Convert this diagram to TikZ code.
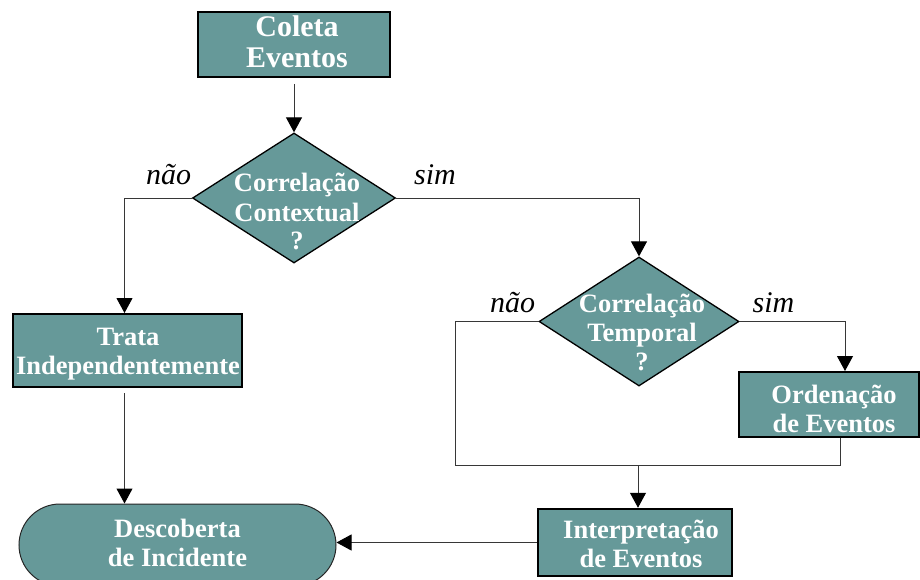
\documentclass[tikz,border=0pt]{standalone}
\usepackage{fontspec}
\setmainfont{Liberation Serif}
\usetikzlibrary{shapes.geometric,shapes.misc,arrows.meta}
\definecolor{tealfill}{RGB}{102,153,153}
\definecolor{wirecol}{RGB}{55,55,55}
\newcommand\stackedtext[1]{\begin{tabular}[t]{@{}c@{}}#1\end{tabular}}
\begin{document}
\begin{tikzpicture}[x=1pt,y=-1pt,
  procbox/.style={rectangle, draw=black, line width=2pt, fill=tealfill, inner sep=0},
  decision/.style={diamond, draw=black, line width=1.3pt, fill=tealfill, inner sep=0},
  terminal/.style={rounded rectangle, draw=black!85, line width=1pt, fill=tealfill, inner sep=0},
  caption/.style={font=\fontsize{26.5}{29}\selectfont\bfseries, text=white, anchor=base, inner sep=0},
  answer/.style={font=\fontsize{30}{32}\selectfont\itshape, anchor=base, inner sep=0},
  wire/.style={draw=wirecol, line width=1pt},
  flow/.style={wire, -{Triangle[width=16pt,length=15pt,black]}}]
\useasboundingbox (0,0) rectangle (920,580);
\clip (0,0) rectangle (920,580);

% shapes
\node[procbox, minimum width=192pt, minimum height=65pt] (coleta) at (294,44.5) {};
\node[decision, minimum width=203pt, minimum height=130pt] (d1) at (294,198) {};
\node[procbox, minimum width=229pt, minimum height=73pt] (trata) at (127.5,350.5) {};
\node[decision, minimum width=200pt, minimum height=129pt] (d2) at (639,321.5) {};
\node[procbox, minimum width=180pt, minimum height=65pt] (orden) at (829,404.5) {};
\node[procbox, minimum width=194pt, minimum height=67pt, line width=2.5pt] (interp) at (635,542.5) {};
\node[terminal, minimum width=317pt, minimum height=82pt] (stad) at (177.5,545) {};

% captions
\node[caption, font=\fontsize{30}{31}\selectfont\bfseries] (coleta-t) at (297,37) {\stackedtext{Coleta\\Eventos}};
\node[caption] (d1-t) at (297,192) {\stackedtext{Correlação\\Contextual\\?}};
\node[caption] (trata-t) at (128,345) {\stackedtext{Trata\\Independentemente}};
\node[caption] (d2-t) at (642,312) {\stackedtext{Correlação\\Temporal\\?}};
\node[caption] (orden-t) at (834,403) {\stackedtext{Ordenação\\de Eventos}};
\node[caption] (interp-t) at (641,538) {\stackedtext{Interpretação\\de Eventos}};
\node[caption] (stad-t) at (177.5,537) {\stackedtext{Descoberta\\de Incidente}};

% branch answers
\node[answer] (d1-no) at (168.5,185) {não};
\node[answer] (d1-yes) at (435,185) {sim};
\node[answer] (d2-no) at (512.5,312) {não};
\node[answer] (d2-yes) at (773.5,312) {sim};

% connectors
\draw[flow, shorten <=6pt] (coleta.south) -- (d1.north);
\draw[flow] (d1.west) -| ([xshift=-3pt]trata.north);
\draw[flow] (d1.east) -| (d2.north);
\draw[flow] (d2.east) -| ([xshift=16pt]orden.north);
\coordinate (loopL) at (455,465);
\coordinate (loopR) at (840,465);
\draw[wire] (d2.west) -| (loopL) -- (loopR) -- (loopR |- orden.south);
\draw[flow] ([xshift=3pt]interp.north |- loopL) -- ([xshift=3pt]interp.north);
\draw[flow, shorten <=5pt] ([xshift=-3pt]trata.south) -- ([xshift=-3pt]trata.south |- stad.north);
\draw[flow] (interp.west) -- (interp.west -| stad.east);
\end{tikzpicture}
\end{document}
